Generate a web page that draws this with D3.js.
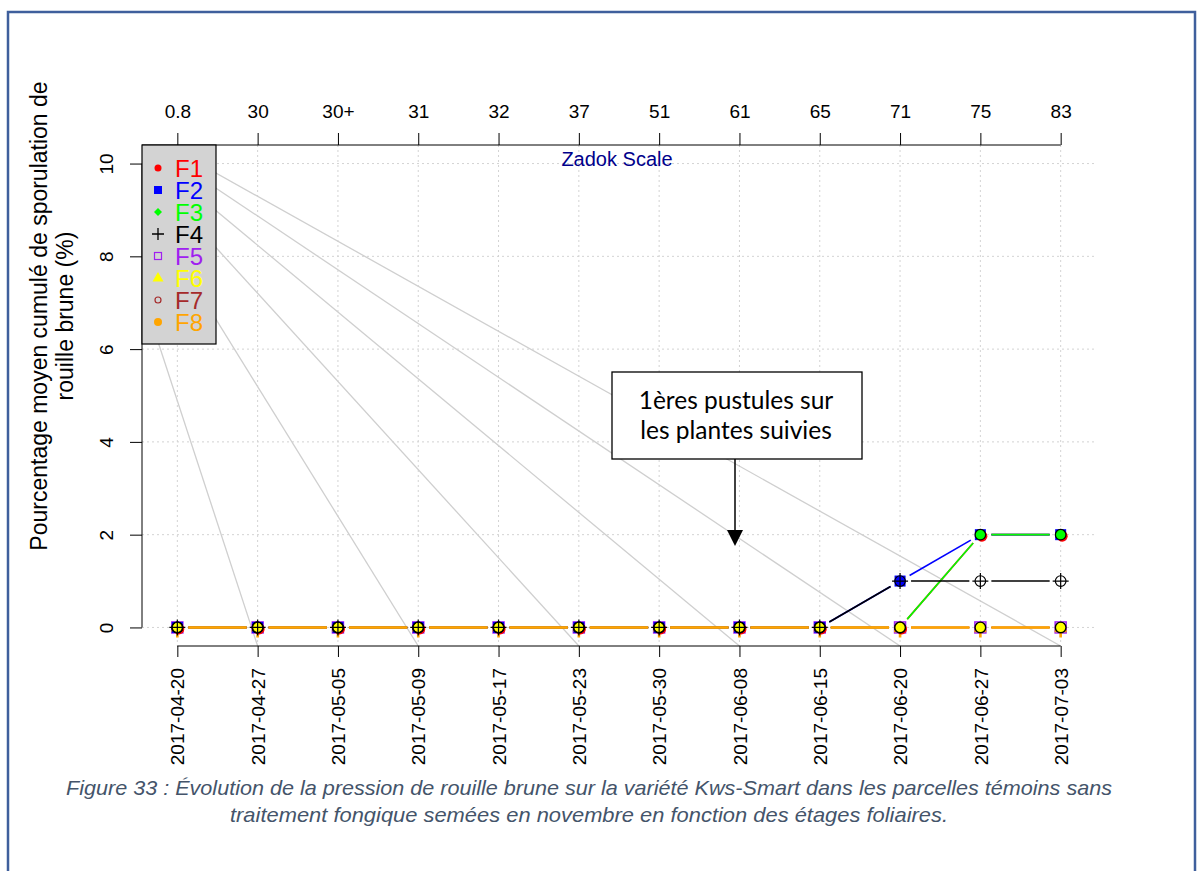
<!DOCTYPE html>
<html>
<head>
<meta charset="utf-8">
<script src="https://d3js.org/d3.v7.min.js"></script>
<style>
  body { margin: 0; background: #fff; }
  text { font-family: "Liberation Sans", Arial, sans-serif; }
</style>
</head>
<body>
<svg id="chart" width="1202" height="871"></svg>
<script>
// data
const dates = ["2017-04-20","2017-04-27","2017-05-05","2017-05-09","2017-05-17","2017-05-23",
               "2017-05-30","2017-06-08","2017-06-15","2017-06-20","2017-06-27","2017-07-03"];
const zadok = ["0.8","30","30+","31","32","37","51","61","65","71","75","83"];
const seriesNames = ["F1","F2","F3","F4","F5","F6","F7","F8"];
const seriesColors = ["#ff0000","#0000ff","#00ff00","#000000","#a020f0","#ffff00","#a52a2a","#ffa500"];
const F1 = [0,0,0,0,0,0,0,0,0,0,2,2];
const F2 = [0,0,0,0,0,0,0,0,0,1,2,2];
const F3 = [0,0,0,0,0,0,0,0,0,0,2,2];
const F4 = [0,0,0,0,0,0,0,0,0,1,1,1];
const F5 = [0,0,0,0,0,0,0,0,0,0,0,0];
const F6 = [0,0,0,0,0,0,0,0,0,0,0,0];
const F7 = [0,0,0,0,0,0,0,0,0,0,0,0];
const F8 = [0,0,0,0,0,0,0,0,0,0,0,0];
const yTicks = [0,2,4,6,8,10];
const rayTargets = [1,3,5,7,9,11];   // grey guide lines end on these dates

const values = [F1,F2,F3,F4,F5,F6,F7,F8];

const svg = d3.select("#chart");
const L = 142, R = 1096, T = 145, B = 646;

const x = d3.scaleLinear().domain([-0.44, 11.44]).range([L, R]);
const y = d3.scaleLinear().domain([-0.4, 10.4]).range([B, T]);
const idx = d3.range(dates.length);

// frame of the figure
const frame = svg.append("g").attr("fill","none").attr("stroke","#3f5f9c").attr("stroke-width",2.5);
frame.append("path").attr("d","M8,871 L8,12 L1195,12 L1195,871");

svg.append("clipPath").attr("id","plotclip")
  .append("rect").attr("x",L).attr("y",T).attr("width",R-L).attr("height",B-T);

// grid
const grid = svg.append("g").attr("stroke","#d3d3d3").attr("stroke-dasharray","2,3").attr("stroke-width",1);
grid.selectAll(".gy").data(yTicks).join("line").attr("class","gy")
  .attr("x1",L).attr("x2",R).attr("y1",d=>y(d)).attr("y2",d=>y(d));
grid.selectAll(".gx").data(idx).join("line").attr("class","gx")
  .attr("x1",d=>x(d)).attr("x2",d=>x(d)).attr("y1",T).attr("y2",B);

// grey rays
svg.append("g").attr("clip-path","url(#plotclip)")
  .selectAll("line").data(rayTargets).join("line")
  .attr("x1",x(-1.245)).attr("y1",y(11.47))
  .attr("x2",d=>x(d)).attr("y2",y(-0.4))
  .attr("stroke","#cfcfcf").attr("stroke-width",1.3);

// axes
const axFont = "19px";
const xAxisB = svg.append("g").attr("transform",`translate(0,${B})`)
  .call(d3.axisBottom(x).tickValues(idx).tickFormat(i=>dates[i]).tickSize(11).tickSizeOuter(0));
xAxisB.select(".domain").remove();
xAxisB.selectAll("text").attr("transform","rotate(-90)").attr("x",-22).attr("y",0)
  .attr("dy","0.35em").attr("text-anchor","end").style("font-size",axFont).attr("fill","#000");
xAxisB.append("line").attr("x1",x(0)).attr("x2",x(11)).attr("stroke","#000");
xAxisB.selectAll(".tick line").attr("stroke","#000");

const xAxisT = svg.append("g").attr("transform",`translate(0,${T})`)
  .call(d3.axisTop(x).tickValues(idx).tickFormat(i=>zadok[i]).tickSize(12).tickPadding(15).tickSizeOuter(0));
xAxisT.select(".domain").remove();
xAxisT.selectAll("text").style("font-size",axFont).attr("fill","#000");
xAxisT.append("line").attr("x1",L).attr("x2",x(11)).attr("stroke","#000");
xAxisT.selectAll(".tick line").attr("stroke","#000");

const yAxis = svg.append("g").attr("transform",`translate(${L},0)`)
  .call(d3.axisLeft(y).tickValues(yTicks).tickSize(12).tickSizeOuter(0));
yAxis.select(".domain").remove();
yAxis.selectAll("text").attr("transform","rotate(-90)").attr("x",0).attr("y",-29)
  .attr("dy",0).attr("text-anchor","middle").style("font-size",axFont).attr("fill","#000");
yAxis.append("line").attr("y1",y(0)).attr("y2",y(10)).attr("stroke","#000");
yAxis.selectAll(".tick line").attr("stroke","#000");

// y title
const yt = svg.append("g").attr("transform","translate(0,316) rotate(-90)")
  .attr("text-anchor","middle").style("font-size","23px");
yt.append("text").attr("x",0).attr("y",47).text("Pourcentage moyen cumulé de sporulation de");
yt.append("text").attr("x",0).attr("y",73).text("rouille brune (%)");

svg.append("text").attr("x",617).attr("y",166).attr("text-anchor","middle")
  .style("font-size","20px").attr("fill","#00008b").text("Zadok Scale");

// lines (type "b": gaps around points)
const gap = 11;
const plotG = svg.append("g");
values.forEach((vals,s)=>{
  const segs = [];
  for (let i=0;i<vals.length-1;i++){
    const x0=x(i), y0=y(vals[i]), x1=x(i+1), y1=y(vals[i+1]);
    const len=Math.hypot(x1-x0,y1-y0), ux=(x1-x0)/len, uy=(y1-y0)/len;
    segs.push([x0+ux*gap,y0+uy*gap,x1-ux*gap,y1-uy*gap]);
  }
  plotG.append("g").selectAll("line").data(segs).join("line")
    .attr("x1",d=>d[0]).attr("y1",d=>d[1]).attr("x2",d=>d[2]).attr("y2",d=>d[3])
    .attr("stroke",seriesColors[s]).attr("stroke-width",s===7?2.4:1.6);
});

// point markers
function marker(g, s, cx, cy){
  const c = seriesColors[s];
  if (s===0) g.append("circle").attr("cx",cx+1.5).attr("cy",cy+1.5).attr("r",5.5).attr("fill",c);
  if (s===1) g.append("rect").attr("x",cx-5.5).attr("y",cy-5.5).attr("width",11).attr("height",11).attr("fill",c);
  if (s===2) g.append("circle").attr("cx",cx).attr("cy",cy).attr("r",5.3).attr("fill",c).attr("stroke","#000").attr("stroke-width",1.3);
  if (s===3){
    g.append("circle").attr("cx",cx).attr("cy",cy).attr("r",5.3).attr("fill","none").attr("stroke",c).attr("stroke-width",1.2);
    g.append("path").attr("d",`M${cx-8},${cy}H${cx+8}M${cx},${cy-8}V${cy+8}`).attr("stroke",c).attr("stroke-width",1.2);
  }
  if (s===4) g.append("rect").attr("x",cx-5.5).attr("y",cy-5.5).attr("width",11).attr("height",11).attr("fill","none").attr("stroke",c).attr("stroke-width",1.5);
  if (s===5) g.append("circle").attr("cx",cx).attr("cy",cy).attr("r",5.3).attr("fill",c).attr("stroke","#000").attr("stroke-width",1.4);
  if (s===6) g.append("circle").attr("cx",cx).attr("cy",cy).attr("r",5).attr("fill","none").attr("stroke",c).attr("stroke-width",1);
  if (s===7) g.append("path").attr("d",`M${cx-6},${cy+3.5}H${cx+6}M${cx},${cy-3}V${cy+10}`).attr("stroke",c).attr("stroke-width",2.6);
}
const drawOrder = [4,7,1,0,2,6,5,3];
drawOrder.forEach(s=>{
  const g = plotG.append("g");
  values[s].forEach((v,i)=>marker(g,s,x(i),y(v)));
});

// legend
const lg = svg.append("g");
lg.append("rect").attr("x",L).attr("y",T).attr("width",74).attr("height",199)
  .attr("fill","#d3d3d3").attr("stroke","#000").attr("stroke-width",1.2);
seriesNames.forEach((n,s)=>{
  const cy = 168 + s*22, cx = 158, c = seriesColors[s];
  const g = lg.append("g");
  if (s===0||s===7) g.append("circle").attr("cx",cx).attr("cy",cy).attr("r",s===0?3.5:4).attr("fill",c);
  if (s===1) g.append("rect").attr("x",cx-4).attr("y",cy-4).attr("width",8).attr("height",8).attr("fill",c);
  if (s===2) g.append("path").attr("d",`M${cx},${cy-4}L${cx+4},${cy}L${cx},${cy+4}L${cx-4},${cy}Z`).attr("fill",c);
  if (s===3) g.append("path").attr("d",`M${cx-6},${cy}H${cx+6}M${cx},${cy-6}V${cy+6}`).attr("stroke",c).attr("stroke-width",1.3);
  if (s===4) g.append("rect").attr("x",cx-3.5).attr("y",cy-3.5).attr("width",7).attr("height",7).attr("fill","none").attr("stroke",c).attr("stroke-width",1.2);
  if (s===5) g.append("path").attr("d",`M${cx},${cy-6}L${cx+5.5},${cy+3.5}L${cx-5.5},${cy+3.5}Z`).attr("fill",c);
  if (s===6) g.append("circle").attr("cx",cx).attr("cy",cy).attr("r",3).attr("fill","none").attr("stroke",c).attr("stroke-width",1.2);
  g.append("text").attr("x",175).attr("y",cy).attr("dy","0.36em").style("font-size","24px")
    .attr("fill",c).text(n);
});

// annotation
const ann = svg.append("g");
ann.append("rect").attr("x",612).attr("y",372).attr("width",250).attr("height",87)
  .attr("fill","#fff").attr("stroke","#000").attr("stroke-width",1.3);
ann.append("text").attr("x",736).attr("y",409).attr("text-anchor","middle")
  .style("font-family","Lato, 'Open Sans', sans-serif").style("font-size","24.5px").text("1ères pustules sur");
ann.append("text").attr("x",736).attr("y",439).attr("text-anchor","middle")
  .style("font-family","Lato, 'Open Sans', sans-serif").style("font-size","24.5px").text("les plantes suivies");
ann.append("line").attr("x1",735).attr("x2",735).attr("y1",459).attr("y2",532).attr("stroke","#000").attr("stroke-width",1.5);
ann.append("path").attr("d","M727,530L743,530L735,546Z").attr("fill","#000");

// caption
const cap = svg.append("g").attr("fill","#44546a").style("font-family","Lato, 'Open Sans', sans-serif")
  .style("font-style","italic").style("font-size","21px").attr("text-anchor","middle");
cap.append("text").attr("x",589).attr("y",795).attr("textLength",1046).attr("lengthAdjust","spacingAndGlyphs")
  .text("Figure 33 : Évolution de la pression de rouille brune sur la variété Kws-Smart dans les parcelles témoins sans");
cap.append("text").attr("x",589).attr("y",822).attr("textLength",718).attr("lengthAdjust","spacingAndGlyphs")
  .text("traitement fongique semées en novembre en fonction des étages foliaires.");
</script>
</body>
</html>
